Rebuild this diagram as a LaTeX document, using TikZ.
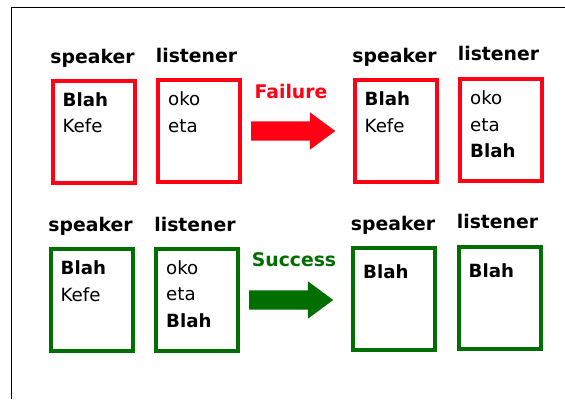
\documentclass[tikz,border=0pt]{standalone}
\usepackage{fontspec}
\setmainfont{DejaVu Sans}
\usetikzlibrary{positioning,shapes.arrows}

\definecolor{failred}{RGB}{255,0,20}
\definecolor{okgreen}{RGB}{0,110,0}

\begin{document}
\begin{tikzpicture}[x=1pt,y=-1pt,
  box/.style={draw,line width=4pt,minimum width=82pt,minimum height=102pt,inner sep=0pt},
  who/.style={font=\fontsize{18.8}{22}\selectfont\bfseries,inner sep=0pt,text depth=0pt},
  words/.style={anchor=north west,align=left,inner sep=0pt,font=\fontsize{18.2}{26.5}\selectfont,execute at begin node=\strut},
  fat/.style={single arrow,draw=none,anchor=tail,inner xsep=0pt,inner ysep=9.5pt,minimum height=84pt,single arrow head extend=9pt,single arrow tip angle=73}]
\useasboundingbox (0,0) rectangle (565,399);
\draw[line width=1pt] (11,399) -- (11,7.5) -- (565,7.5);

% failure
\node[box,draw=failred] (spkA) at (93.5,131.5) {};
\node[box,draw=failred] (lstA) at (199,131) {};
\node[box,draw=failred] (spkB) at (395.5,131) {};
\node[box,draw=failred] (lstB) at (501,130) {};
\node[who,above=15pt of spkA,xshift=-1pt] {speaker};
\node[who,above=15pt of lstA,xshift=-2.5pt] {listener};
\node[who,above=15pt of spkB,xshift=-1pt] {speaker};
\node[who,above=16pt of lstB,xshift=-2.5pt] {listener};
\node[words] at ([shift={(12,13.5)}]spkA.north west) {\textbf{Blah}\\Kefe};
\node[words] at ([shift={(12,13.5)}]lstA.north west) {oko\\eta};
\node[words] at ([shift={(12,13.5)}]spkB.north west) {\textbf{Blah}\\Kefe};
\node[words] at ([shift={(12,13.5)}]lstB.north west) {oko\\eta\\\textbf{Blah}};
\node[fat,fill=failred] (goA) at (251,131) {};
\node[who,text=failred,anchor=south] (fail) at (291,99) {Failure};

% success
\node[box,draw=okgreen] (spkC) at (91.5,300) {};
\node[box,draw=okgreen] (lstC) at (197,299.5) {};
\node[box,draw=okgreen] (spkD) at (394,299) {};
\node[box,draw=okgreen] (lstD) at (499.5,298) {};
\node[who,above=15pt of spkC,xshift=-1pt] {speaker};
\node[who,above=15pt of lstC,xshift=-2pt] {listener};
\node[who,above=15pt of spkD,xshift=-1pt] {speaker};
\node[who,above=16pt of lstD,xshift=-2pt] {listener};
\node[words] at ([shift={(12,13.5)}]spkC.north west) {\textbf{Blah}\\Kefe};
\node[words] at ([shift={(12,13.5)}]lstC.north west) {oko\\eta\\\textbf{Blah}};
\node[words] at ([shift={(12,13.5)}]spkD.north west) {\textbf{Blah}};
\node[words] at ([shift={(12,13.5)}]lstD.north west) {\textbf{Blah}};
\node[fat,fill=okgreen] (goC) at (249,300) {};
\node[who,text=okgreen,anchor=south] (succ) at (294,267) {Success};
\end{tikzpicture}
\end{document}
